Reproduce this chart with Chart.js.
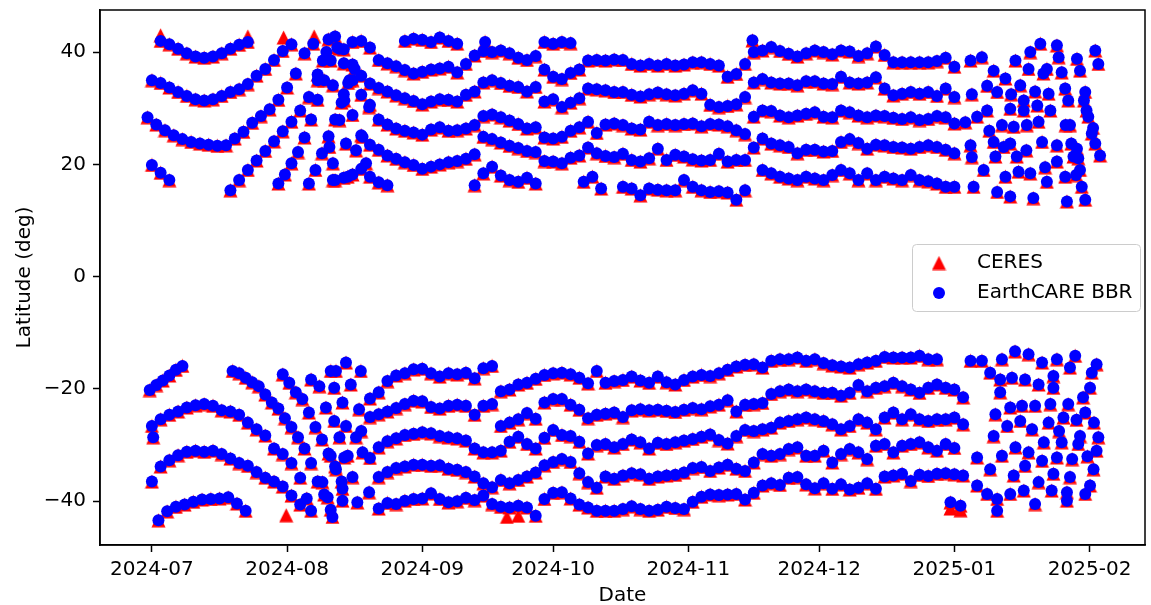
<!DOCTYPE html>
<html>
<head>
<meta charset="utf-8">
<script src="https://cdn.jsdelivr.net/npm/chart.js@4/dist/chart.umd.min.js"></script>
<style>
  html, body { margin: 0; background: #fff; }
  #wrap { width: 1151px; height: 605px; }
</style>
</head>
<body>
<div id="wrap"><canvas id="latChart" width="1151" height="605"></canvas></div>
<script>
// x = days after 2024-07-01
const monthDays = [0, 31, 62, 92, 123, 153, 184, 215];
const monthLabels = ['2024-07', '2024-08', '2024-09', '2024-10', '2024-11', '2024-12', '2025-01', '2025-02'];
const latTicks = [-40, -20, 0, 20, 40];
const seriesNames = ['CERES', 'EarthCARE BBR'];

// each track: first day, days between passes, then latitudes
const northTracks = [
  [2, 2, 42.0, 41.4, 40.6, 39.8, 39.2, 39.0, 39.2, 39.8, 40.6, 41.3, 41.8],
  [0, 2, 35.0, 34.5, 33.7, 32.9, 32.2, 31.6, 31.4, 31.6, 32.2, 32.9, 33.4, 34.3, 35.8, 37.0, 38.6, 40.2, 41.4],
  [-1, 2, 28.4, 27.1, 26.1, 25.2, 24.5, 24.0, 23.7, 23.5, 23.3, 23.4, 24.6, 25.8, 27.4, 28.6, 29.8, 31.5, 33.7, 36.2, 39.8, 41.5],
  [0, 2, 19.9, 18.5, 17.2],
  [18, 2, 15.4, 17.2, 19.0, 20.7, 22.4, 24.1, 25.9, 27.6, 29.6, 32.0, 36.0, 40.0],
  [29, 1.5, 16.6, 18.2, 20.2, 22.2, 24.8, 28.0, 31.5, 35.0, 38.5, 40.8],
  [36, 1.5, 16.6, 19.0, 22.0, 25.0, 28.0, 31.0, 34.5, 37.0],
  [46, 2, 41.8, 42.0, 40.8, 38.6, 38.0, 37.5, 36.8, 36.2, 36.5, 36.9, 37.1, 37.4, 36.4, 37.9, 39.4, 40.2, 40.0, 40.3, 39.8, 39.0,
    38.6, 39.3, 36.9, 35.6, 35.2, 36.3, 36.9, 38.5, 38.6, 38.5, 38.7, 38.6, 37.9, 37.6, 37.9, 37.6, 37.9, 37.6, 37.8, 38.2,
    38.2, 37.9, 37.6, 35.6, 36.1, 37.9, 40.0, 40.3, 40.9, 40.2, 39.7, 39.2, 39.8, 40.3, 40.0, 39.6, 40.3, 40.1, 39.3, 39.8,
    41.0, 39.5, 38.2, 38.2, 38.2, 38.2, 38.2, 38.4, 39.0, 37.4],
  [44, 2, 40.5, 37.8, 35.8, 34.4, 33.6, 33.0, 32.3, 31.8, 31.3, 30.7, 31.2, 31.6, 31.5, 31.2, 32.4, 33.0, 34.6, 35.0, 34.5, 34.0,
    33.8, 33.0, 33.8, 31.2, 31.6, 30.2, 31.0, 31.8, 33.5, 33.4, 33.2, 32.9, 32.9, 32.4, 32.1, 32.5, 32.8, 32.5, 32.3, 32.6,
    33.2, 32.6, 30.6, 30.2, 30.4, 30.7, 32.0, 34.6, 35.2, 34.6, 34.4, 34.4, 34.1, 34.8, 34.8, 34.4, 34.3, 35.6, 34.6, 34.4,
    34.6, 35.5, 33.5, 32.3, 32.6, 32.9, 32.6, 32.9, 32.2, 33.5, 32.0],
  [44, 2, 38.0, 35.0, 32.4, 30.6, 28.0, 27.1, 26.4, 26.0, 25.7, 25.3, 26.2, 26.6, 26.0, 26.1, 26.4, 27.0, 28.6, 28.9, 28.4, 27.8,
    27.2, 26.4, 26.6, 24.8, 24.6, 24.9, 26.0, 26.6, 27.6, 25.6, 27.1, 27.3, 27.0, 26.4, 26.2, 27.6, 27.0, 27.2, 27.0, 27.2,
    27.3, 26.8, 27.2, 27.1, 26.8, 26.1, 25.4, 28.5, 29.6, 29.5, 28.7, 28.4, 28.7, 29.0, 29.3, 28.5, 28.4, 29.6, 29.3, 28.7,
    28.4, 28.7, 28.6, 28.3, 28.1, 28.4, 27.9, 28.1, 28.6, 28.4, 27.3],
  [44, 2, 32.5, 28.8, 25.2, 23.5, 22.6, 21.6, 21.0, 20.4, 19.9, 19.2, 19.6, 20.0, 20.4, 20.6, 21.0, 21.8, 24.9, 24.5, 23.9, 23.3,
    22.9, 22.4, 22.2, 20.6, 20.5, 20.2, 21.2, 21.6, 23.0, 22.0, 21.5, 21.3, 21.9, 20.8, 20.5, 21.1, 22.8, 20.8, 21.7, 21.4,
    20.9, 20.7, 20.8, 21.9, 20.5, 20.8, 20.8, 23.0, 24.6, 23.7, 23.4, 23.1, 22.0, 22.6, 22.6, 22.3, 22.4, 24.0, 24.5, 23.8,
    22.8, 23.5, 23.4, 23.1, 23.0, 22.8, 23.1, 23.4, 23.1, 22.6, 22.0],
  [42, 2, 17.2, 17.6, 18.2, 19.2, 17.8, 16.8, 16.3],
  [74, 2, 16.3, 18.4, 19.6, 18.0, 17.2, 16.9, 17.6, 16.6],
  [99, 2, 16.9, 17.8, 15.7],
  [108, 2, 16.0, 15.7, 14.5, 15.7, 15.5, 15.4, 15.4, 17.2, 16.0, 15.4, 15.1, 15.2, 15.0, 13.7, 15.4],
  [140, 2, 19.0, 18.4, 17.8, 17.5, 17.2, 17.8, 17.5, 17.2, 18.1, 19.0, 18.4, 17.2, 18.4, 17.2, 17.8, 17.5, 17.2, 18.1, 17.2,
    17.0, 16.6, 16.0, 16.0],
  [58, 2, 42.0, 42.4, 42.2, 41.8, 42.6, 42.0, 41.5],
  [90, 2, 41.8, 41.5, 41.8, 41.6]
];

const southTracks = [
  [-0.5, 1.5, -20.2, -19.3, -18.5, -17.6, -16.6, -15.9],
  [0, 2, -26.6, -25.4, -24.6, -24.0, -23.3, -22.9, -22.7, -23.0, -23.8, -24.0, -24.6, -26.0, -27.2, -28.3, -30.6, -31.6,
    -33.2, -35.8],
  [0, 2, -36.5, -33.8, -32.7, -31.8, -31.2, -31.0, -31.2, -31.0, -31.6, -32.4, -33.2, -33.7, -34.8, -35.8, -36.5, -37.4,
    -39.0, -40.6],
  [1.5, 2, -43.4, -41.8, -41.0, -40.6, -40.1, -39.7, -39.6, -39.5, -39.3, -40.4, -41.7],
  [18.5, 1.5, -16.8, -17.2, -18.0, -18.8, -19.5, -21.0, -22.4, -23.5, -25.2, -26.8, -28.6, -30.6, -33.2, -36.5, -38.8, -41.5],
  [30, 1.5, -17.4, -18.9, -20.6, -21.8, -24.2, -26.8, -29.0, -31.5, -33.8, -36.5],
  [50, 2, -21.7, -20.6, -18.6, -17.6, -17.2, -16.5, -16.4, -17.2, -17.8, -17.2, -17.4, -17.1, -18.1, -16.3, -15.9, -20.4,
    -20.1, -19.2, -18.9, -18.2, -17.5, -17.2, -17.1, -17.4, -18.0, -19.0, -16.8, -18.9, -18.6, -18.4, -17.8, -18.5, -18.9,
    -17.8, -18.8, -19.2, -18.4, -17.8, -17.5, -17.7, -17.2, -16.6, -16.0, -15.7, -15.6, -16.2, -15.0, -14.7, -14.7, -14.4,
    -15.0, -14.7, -15.4, -15.8, -16.0, -16.2, -15.6, -15.3, -15.0, -14.3, -14.4, -14.4, -14.4, -14.1, -14.7, -14.7],
  [48, 2, -27.5, -25.0, -24.5, -24.0, -23.4, -22.7, -22.1, -22.2, -23.2, -23.5, -23.0, -22.8, -23.0, -24.6, -23.0, -22.7,
    -26.6, -26.0, -25.4, -24.3, -25.3, -22.4, -21.8, -21.8, -22.8, -23.7, -25.2, -24.6, -24.4, -24.2, -25.0, -23.8, -23.6,
    -23.8, -23.7, -23.9, -24.1, -23.7, -23.4, -23.6, -23.1, -22.8, -22.0, -24.0, -22.8, -22.7, -22.5, -20.9, -20.4, -20.1,
    -20.4, -20.1, -20.4, -20.7, -20.7, -21.2, -20.7, -19.3, -20.4, -19.8, -19.5, -18.9, -19.5, -20.1, -20.7, -19.8, -19.2,
    -19.8, -20.1, -21.5],
  [50, 2, -32.3, -30.4, -29.3, -28.8, -28.2, -28.0, -27.7, -27.9, -28.4, -28.6, -28.8, -29.2, -30.6, -31.3, -31.3, -31.0,
    -29.4, -28.5, -29.8, -30.6, -28.7, -27.3, -28.2, -28.4, -29.4, -31.5, -30.0, -29.8, -30.4, -29.8, -29.0, -29.5, -30.6,
    -29.6, -29.8, -29.5, -29.2, -28.9, -28.5, -28.1, -29.1, -29.7, -28.4, -27.3, -27.5, -27.2, -26.9, -26.0, -25.7, -25.4,
    -25.1, -25.4, -25.7, -26.3, -27.2, -26.6, -25.4, -26.0, -27.2, -25.1, -24.2, -25.4, -24.5, -25.4, -25.7, -25.4, -25.4,
    -25.1, -26.3],
  [52, 2, -35.7, -34.8, -34.1, -33.8, -33.5, -33.5, -33.7, -33.6, -34.2, -34.4, -34.8, -35.6, -36.8, -37.5, -36.2, -36.8,
    -36.2, -35.6, -34.9, -33.6, -33.0, -32.5, -33.0, -35.0, -36.6, -37.6, -35.6, -36.0, -35.4, -35.0, -35.2, -36.0, -35.6,
    -35.4, -35.3, -34.9, -34.1, -33.9, -34.6, -34.0, -33.5, -34.2, -34.6, -33.1, -31.6, -31.9, -31.6, -30.7, -30.4, -31.9,
    -31.9, -31.0, -33.1, -31.6, -30.7, -31.3, -32.5, -30.1, -29.8, -31.3, -30.1, -29.8, -29.5, -30.4, -31.0, -29.8, -30.5],
  [52, 2, -41.3, -40.3, -40.5, -39.9, -39.6, -39.5, -38.6, -39.6, -40.2, -40.0, -39.4, -39.8, -39.0, -40.5, -41.0, -41.1,
    -40.8, -41.1, -42.6, -39.6, -38.5, -38.4, -39.5, -40.6, -41.1, -41.7, -41.7, -41.7, -41.4, -40.9, -41.4, -41.7, -41.5,
    -41.0, -41.2, -41.4, -40.1, -39.2, -38.8, -38.9, -38.8, -38.7, -39.7, -38.5, -37.2, -36.8, -37.1, -35.8, -35.7, -37.0,
    -37.7, -36.8, -37.8, -37.0, -37.9, -37.6, -36.8, -37.8, -35.6, -35.4, -35.1, -36.4, -35.3, -35.5, -35.1, -35.0, -35.2,
    -35.4]
];

// single passes [day, lat] where the tracks cross or break up
const northSpots = [
  [40.5, 42.3], [42, 42.8], [43, 40.6], [39.2, 38.5], [41.5, 34.1], [44.1, 31.4], [43, 27.9], [40.7, 23.1], [44.5, 23.7],
  [46.8, 22.5], [49.1, 20.2], [41.5, 20.2], [41.5, 17.2], [44.9, 17.8], [38, 35.0], [45.3, 35.0], [49.8, 30.2], [48.3, 24.9],
  [137.7, 42.1], [76.4, 41.8],
  [187.7, 38.5], [190.3, 39.1], [193.0, 36.7], [195.7, 35.3], [193.8, 32.9], [191.5, 29.6], [189.2, 28.5], [194.9, 27.0],
  [196.8, 29.9], [199.9, 31.4], [199.1, 34.1], [201, 37.0], [201.4, 40.0], [203.7, 41.5], [207.5, 41.2], [207.9, 39.1],
  [205.2, 37.0], [208.6, 36.4], [204.4, 36.2], [205.6, 32.6], [209.4, 33.5], [210.1, 31.4], [206, 29.6], [203.3, 27.6],
  [199.9, 29.6], [197.6, 26.7], [200.6, 27.0], [204.1, 24.0], [207.5, 23.4], [210.5, 27.0], [212.1, 22.8], [212.8, 19.0],
  [213.2, 16.0], [214, 13.7], [209.8, 13.4], [209.4, 17.8], [207.5, 20.5], [205.2, 16.9], [202.1, 14.0], [201.4, 18.4],
  [198.7, 18.7], [198.3, 21.4], [196.8, 23.7], [195.3, 23.1], [193.4, 21.4], [193, 24.0], [195.7, 17.8], [193.8, 15.1],
  [196.8, 14.3], [190.7, 19.0], [188.4, 16.0], [212.1, 38.8], [212.8, 36.7], [214, 32.9], [214.3, 29.6], [214.7, 28.5],
  [215.5, 25.5], [216.3, 23.7], [217.4, 21.6], [216.3, 40.3], [217, 37.9], [212.4, 21.1], [187.7, 23.4], [188, 21.3],
  [186.5, 27.5], [188, 32.5], [209.5, 27.0], [210.8, 23.7], [211.3, 21.4], [211.9, 18.1], [213.7, 31.4], [215.8, 26.5],
  [202.5, 33.0], [203.0, 30.5], [197.0, 32.5], [198.0, 38.5], [191.5, 34.0], [192.0, 26.0], [204.8, 19.5], [200.5, 22.5]
];

const southSpots = [
  [35.5, -39.5], [36.5, -41.7], [0.3, -28.6], [36.5, -18.3], [38.4, -19.5], [41, -16.8], [41.8, -19.8], [44.5, -15.3],
  [39.9, -23.3], [41.8, -25.7], [43.7, -22.4], [43, -28.6], [44.5, -26.6], [41, -31.9], [42.2, -34.3], [43.7, -37.8],
  [39.1, -36.6], [40.3, -39.3], [41.4, -42.8], [44.9, -31.9], [47.9, -16.8], [42.2, -16.8], [45.6, -19.2], [47.5, -23.6],
  [46.8, -28.6], [44.1, -32.2], [46, -35.7], [43.7, -39.9], [47.1, -40.2], [49.8, -38.4], [48.3, -31.3],
  [183.1, -40.2], [185.4, -40.8],
  [187.7, -15.0], [190.3, -15.0], [192.2, -17.1], [194.9, -14.7], [197.9, -13.3], [201.0, -13.8], [204.1, -15.3],
  [207.5, -14.7], [211.7, -14.1], [216.6, -15.6], [215.5, -17.1], [194.5, -18.3], [197.2, -18.0], [200.2, -18.3],
  [203.3, -19.2], [206.7, -17.7], [206.7, -19.8], [210.5, -16.2], [215.1, -19.8], [194.5, -20.6], [196.8, -23.3],
  [199.5, -23.0], [202.5, -23.0], [206, -22.7], [210.1, -22.7], [214, -24.2], [193.4, -24.5], [196.1, -26.6],
  [199.1, -25.7], [201.8, -27.2], [205.6, -26.0], [209, -25.1], [212.8, -28.4], [217, -28.6], [216.6, -31.0],
  [193, -28.4], [198, -30.4], [201, -31.3], [204.1, -32.8], [207.5, -32.2], [208.6, -29.5], [212.4, -29.8],
  [215.9, -34.3], [189.2, -32.2], [192.2, -34.3], [194.9, -31.9], [197.6, -35.4], [200.2, -33.7], [203.3, -36.6],
  [206.7, -35.1], [210.5, -35.7], [189.2, -37.2], [191.5, -38.7], [193.8, -39.6], [193.8, -41.7], [196.8, -38.7],
  [199.9, -38.1], [202.5, -40.5], [206.3, -38.1], [209.8, -38.4], [209.8, -39.9], [214, -38.7], [215.1, -37.2],
  [213.5, -21.5], [212.0, -25.5], [211.0, -32.5], [214.5, -32.0], [216.0, -26.0], [208.0, -27.5], [204.5, -29.5]
];

// CERES passes with no BBR match
const ceresOnly = [
  [2, 43.0], [22, 42.8], [30.2, 42.6], [37.2, 42.8], [81.4, -42.8], [84, -42.6], [30.8, -42.5],
  [183.1, -41.3], [185.4, -41.6]
];

function trackPoints(tracks) {
  const pts = [];
  tracks.forEach(t => {
    const [first, step, ...lats] = t;
    lats.forEach((lat, i) => pts.push({ x: first + i * step, y: lat }));
  });
  return pts;
}

function spotPoints(spots) {
  return spots.map(s => ({ x: s[0], y: s[1] }));
}

const sharedPoints = trackPoints(northTracks)
  .concat(trackPoints(southTracks), spotPoints(northSpots), spotPoints(southSpots));
const ceresPoints = sharedPoints.concat(spotPoints(ceresOnly));
const bbrPoints = sharedPoints.slice();

// matplotlib style '^' marker
function makeTriangle(size, color) {
  const c = document.createElement('canvas');
  c.width = size + 1;
  c.height = size + 1;
  const g = c.getContext('2d');
  g.fillStyle = color;
  g.beginPath();
  g.moveTo(c.width / 2, 0.5);
  g.lineTo(size + 0.5, size + 0.5);
  g.lineTo(0.5, size + 0.5);
  g.closePath();
  g.fill();
  return c;
}
const triangleMark = makeTriangle(14, '#ff0000');

function fmtLat(v) {
  return v < 0 ? '\u2212' + Math.abs(v) : String(v);
}

const framePlugin = {
  id: 'frame',
  afterDraw(chart) {
    const { ctx, chartArea: a } = chart;
    ctx.save();
    ctx.strokeStyle = '#000';
    ctx.lineWidth = 1.5;
    ctx.strokeRect(a.left, a.top, a.right - a.left, a.bottom - a.top);
    ctx.restore();
  }
};

const legendPlugin = {
  id: 'boxLegend',
  afterDraw(chart) {
    const ctx = chart.ctx;
    const x = 912.5, y = 244.5, w = 228, h = 67, r = 4;
    ctx.save();
    ctx.beginPath();
    ctx.roundRect(x, y, w, h, r);
    ctx.fillStyle = 'rgba(255,255,255,0.8)';
    ctx.fill();
    ctx.strokeStyle = '#cccccc';
    ctx.lineWidth = 1;
    ctx.stroke();

    ctx.drawImage(triangleMark, 939 - triangleMark.width / 2, 263 - triangleMark.height / 2);
    ctx.beginPath();
    ctx.arc(939, 293, 6, 0, Math.PI * 2);
    ctx.fillStyle = '#0000ff';
    ctx.fill();

    ctx.fillStyle = '#000';
    ctx.font = '20px "DejaVu Sans"';
    ctx.textBaseline = 'middle';
    ctx.fillText(chart.data.datasets[0].label, 977, 263);
    ctx.fillText(chart.data.datasets[1].label, 977, 293);
    ctx.restore();
  }
};

Chart.defaults.font.family = '"DejaVu Sans", sans-serif';
Chart.defaults.font.size = 20;
Chart.defaults.color = '#000';

const ctx = document.getElementById('latChart').getContext('2d');
new Chart(ctx, {
  type: 'scatter',
  data: {
    datasets: [
      {
        label: seriesNames[0],
        data: ceresPoints,
        pointStyle: triangleMark,
        backgroundColor: '#ff0000',
        order: 2
      },
      {
        label: seriesNames[1],
        data: bbrPoints,
        pointStyle: 'circle',
        pointRadius: 6,
        pointBorderWidth: 0,
        backgroundColor: '#0000ff',
        borderColor: '#0000ff',
        order: 1
      }
    ]
  },
  options: {
    responsive: false,
    animation: false,
    devicePixelRatio: 1,
    layout: { padding: { top: 10, right: 3, left: 0, bottom: 0 } },
    plugins: {
      legend: { display: false },
      tooltip: { enabled: false }
    },
    scales: {
      x: {
        type: 'linear',
        min: -11.9,
        max: 227.7,
        afterBuildTicks: s => { s.ticks = monthDays.map(v => ({ value: v })); },
        afterFit: s => { s.height = 60; s.paddingLeft = 0; s.paddingRight = 0; },
        ticks: {
          autoSkip: false,
          maxRotation: 0,
          padding: 6,
          callback: v => monthLabels[monthDays.indexOf(v)]
        },
        grid: { drawOnChartArea: false, drawTicks: true, tickLength: 7, tickWidth: 1.5, tickColor: '#000' },
        border: { display: true, color: '#000', width: 1.5 },
        title: { display: true, text: 'Date', font: { size: 20, lineHeight: 0.8 }, padding: { top: 0, bottom: 1 } }
      },
      y: {
        type: 'linear',
        min: -47.8,
        max: 47.5,
        afterBuildTicks: s => { s.ticks = latTicks.map(v => ({ value: v })); },
        afterFit: s => { s.width = 100; s.paddingTop = 0; s.paddingBottom = 0; },
        ticks: { padding: 7, callback: v => fmtLat(v) },
        grid: { drawOnChartArea: false, drawTicks: true, tickLength: 7, tickWidth: 1.5, tickColor: '#000' },
        border: { display: true, color: '#000', width: 1.5 },
        title: { display: true, text: 'Latitude (deg)', font: { size: 20 }, padding: { top: 13, bottom: 0 } }
      }
    }
  },
  plugins: [framePlugin, legendPlugin]
});
</script>
</body>
</html>
